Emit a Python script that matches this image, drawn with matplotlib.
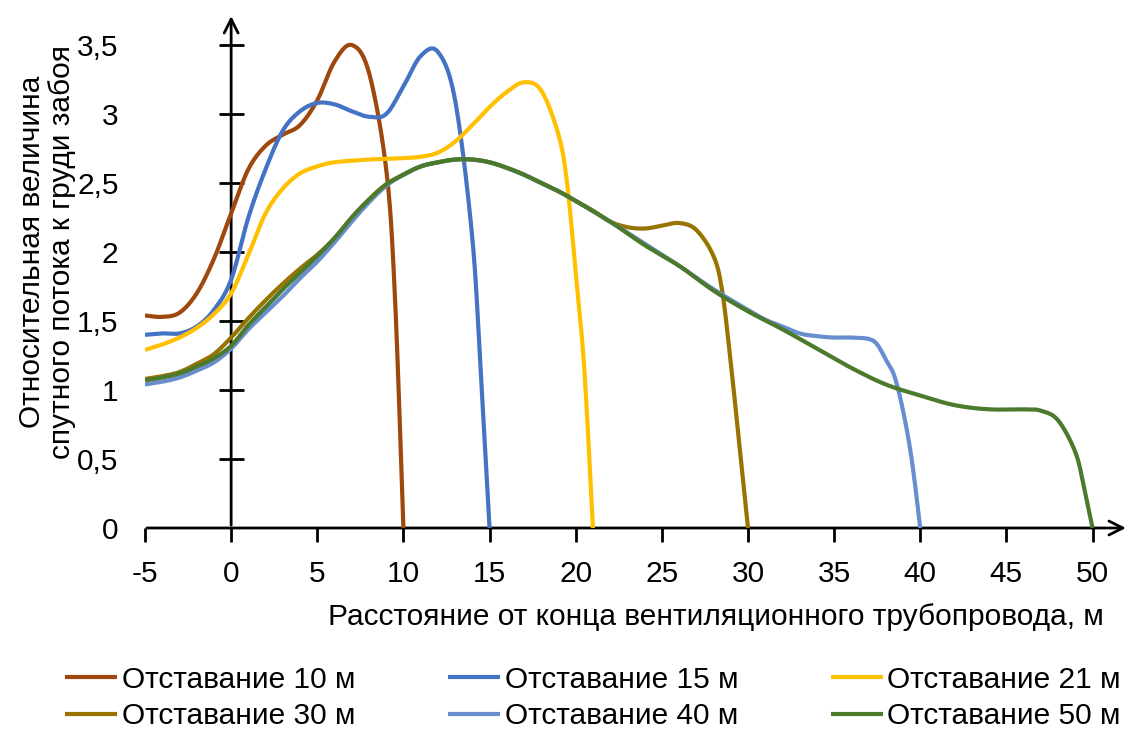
import matplotlib.pyplot as plt
import numpy as np

plt.rcParams['font.family'] = ['Liberation Sans', 'DejaVu Sans']
plt.rcParams['axes.unicode_minus'] = False

# Data
x10 = [-5, -4, -3, -2, -1, 0, 1, 2, 3, 4, 5, 6, 7, 8, 9, 9.5, 10]
y10 = [1.54, 1.53, 1.56, 1.7, 1.95, 2.28, 2.6, 2.77, 2.85, 2.92, 3.1, 3.38, 3.5, 3.3, 2.6, 1.7, 0]

x15 = [-5, -4, -3, -2, -1, 0, 1, 2, 3, 4, 5, 6, 7, 8, 9, 10, 11, 12, 13, 14, 14.5, 15]
y15 = [1.40, 1.41, 1.41, 1.46, 1.58, 1.8, 2.25, 2.6, 2.88, 3.02, 3.08, 3.07, 3.02, 2.98, 3.0, 3.2, 3.42, 3.45, 3.1, 2.1, 1.1, 0]

x21 = [-5, -4, -3, -2, -1, 0, 1, 2, 3, 4, 5, 6, 8, 10, 11, 12, 13, 14, 15, 16, 17, 18, 19, 19.5, 20, 20.5, 21]
y21 = [1.29, 1.33, 1.38, 1.45, 1.55, 1.7, 1.98, 2.28, 2.46, 2.57, 2.62, 2.65, 2.67, 2.68, 2.69, 2.72, 2.8, 2.92, 3.05, 3.16, 3.23, 3.17, 2.85, 2.5, 1.85, 1.15, 0]

x30 = [-5, -4, -3, -2, -1, 0, 1, 2, 3, 4, 5, 6, 7, 8, 9, 10, 11, 12, 13, 14, 15, 16, 17, 18, 19, 20, 21, 22, 23, 24, 25, 26, 27, 28, 28.5, 29, 29.5, 30]
y30 = [1.08, 1.10, 1.13, 1.19, 1.26, 1.38, 1.52, 1.65, 1.77, 1.88, 1.98, 2.1, 2.25, 2.38, 2.49, 2.56, 2.62, 2.65, 2.67, 2.67, 2.65, 2.61, 2.56, 2.5, 2.44, 2.37, 2.3, 2.22, 2.18, 2.17, 2.19, 2.21, 2.16, 1.97, 1.72, 1.2, 0.6, 0]

x40 = [-5, -4, -3, -2, -1, 0, 1, 2, 3, 4, 5, 6, 7, 8, 9, 10, 11, 12, 13, 14, 15, 16, 17, 18, 19, 20, 22, 24, 26, 28, 30, 31, 32, 33, 34, 35, 36, 37, 37.5, 38, 38.5, 39, 39.5, 40]
y40 = [1.04, 1.06, 1.09, 1.14, 1.2, 1.3, 1.44, 1.56, 1.68, 1.81, 1.93, 2.07, 2.22, 2.36, 2.48, 2.56, 2.62, 2.65, 2.67, 2.67, 2.65, 2.61, 2.56, 2.5, 2.44, 2.37, 2.22, 2.06, 1.9, 1.73, 1.58, 1.51, 1.46, 1.41, 1.39, 1.38, 1.38, 1.37, 1.33, 1.22, 1.1, 0.85, 0.5, 0]

x50 = [-5, -4, -3, -2, -1, 0, 1, 2, 3, 4, 5, 6, 7, 8, 9, 10, 11, 12, 13, 14, 15, 16, 17, 18, 19, 20, 22, 24, 26, 28, 30, 32, 34, 36, 38, 40, 42, 44, 46, 47, 48, 49, 49.5, 50]
y50 = [1.07, 1.09, 1.12, 1.17, 1.23, 1.32, 1.47, 1.6, 1.73, 1.85, 1.97, 2.1, 2.25, 2.38, 2.49, 2.56, 2.62, 2.65, 2.67, 2.67, 2.65, 2.61, 2.56, 2.5, 2.44, 2.37, 2.22, 2.05, 1.9, 1.72, 1.57, 1.44, 1.30, 1.16, 1.04, 0.96, 0.89, 0.86, 0.86, 0.85, 0.78, 0.55, 0.3, 0]

labels = ['Отставание 10 м', 'Отставание 15 м', 'Отставание 21 м',
          'Отставание 30 м', 'Отставание 40 м', 'Отставание 50 м']
colors = ['#9E480E', '#4472C4', '#FFC000', '#997300', '#698ED0', '#4B7A2C']

x_ticks = [-5, 0, 5, 10, 15, 20, 25, 30, 35, 40, 45, 50]
y_ticks = [0, 0.5, 1, 1.5, 2, 2.5, 3, 3.5]
y_tick_labels = ['0', '0,5', '1', '1,5', '2', '2,5', '3', '3,5']


def smooth(xs, ys, n=30):
    # Excel-like smoothed line: cubic Bezier through the points
    p = np.column_stack([xs, ys]).astype(float)
    p = np.vstack([p[0], p, p[-1]])
    out = []
    t = np.linspace(0, 1, n)[:, None]
    for i in range(1, len(p) - 2):
        p0, p1, p2, p3 = p[i - 1], p[i], p[i + 1], p[i + 2]
        c1 = p1 + (p2 - p0) / 6
        c2 = p2 - (p3 - p1) / 6
        seg = ((1 - t) ** 3) * p1 + 3 * ((1 - t) ** 2) * t * c1 + 3 * (1 - t) * t ** 2 * c2 + t ** 3 * p2
        out.append(seg)
    out = np.vstack(out)
    return out[:, 0], out[:, 1]


fig = plt.figure(figsize=(11.28, 7.29), dpi=100)
ax = fig.add_axes([145 / 1128, 201 / 729, 982 / 1128, 517.5 / 729])

series = [(x10, y10), (x15, y15), (x21, y21), (x30, y30), (x40, y40), (x50, y50)]
lines = []
for (xs, ys), c, lab in zip(series, colors, labels):
    sx, sy = smooth(xs, ys)
    ln, = ax.plot(sx, sy, color=c, lw=3, label=lab, solid_capstyle='butt', zorder=3)
    lines.append(ln)

ax.set_xlim(-5, 52)
ax.set_ylim(0, 3.75)
for s in ['top', 'right', 'left', 'bottom']:
    ax.spines[s].set_visible(False)

# x axis with arrow
ax.annotate('', xy=(52.1, 0), xytext=(-5.05, 0),
            arrowprops=dict(arrowstyle='->', lw=2, color='black', mutation_scale=25),
            annotation_clip=False, zorder=2)
ax.set_xticks(x_ticks)
ax.tick_params(axis='x', direction='out', length=10, width=2, labelsize=21.5, pad=13)

# y axis at x=0 with arrow, labels at left
ax.annotate('', xy=(0, 3.73), xytext=(0, 0),
            arrowprops=dict(arrowstyle='->', lw=2, color='black', mutation_scale=25),
            annotation_clip=False, zorder=2)
ax.plot(np.zeros(len(y_ticks) - 1), y_ticks[1:], ls='none', marker='_', ms=18, mew=2,
        color='black', zorder=2, clip_on=False)
ax.set_yticks(y_ticks)
ax.set_yticklabels(y_tick_labels)
ax.tick_params(axis='y', length=0, labelsize=21.5, pad=19)

fig.text(47 / 1128, 1 - 252 / 729, 'Относительная величина\nспутного потока к груди забоя',
         rotation=90, ha='center', va='center', fontsize=21.5, linespacing=1.08)
fig.text(716 / 1128, 1 - 617 / 729, 'Расстояние от конца вентиляционного трубопровода, м',
         ha='center', va='center', fontsize=21.5)

order = [0, 3, 1, 4, 2, 5]
fig.legend([lines[i] for i in order], [labels[i] for i in order], ncol=3,
           loc='center', bbox_to_anchor=(593 / 1128, 1 - 698 / 729), frameon=False,
           fontsize=21.5, handlelength=1.75, handletextpad=0.15, columnspacing=3.1,
           labelspacing=0.3, borderpad=0.2)

fig.savefig('out.png', dpi=100)
